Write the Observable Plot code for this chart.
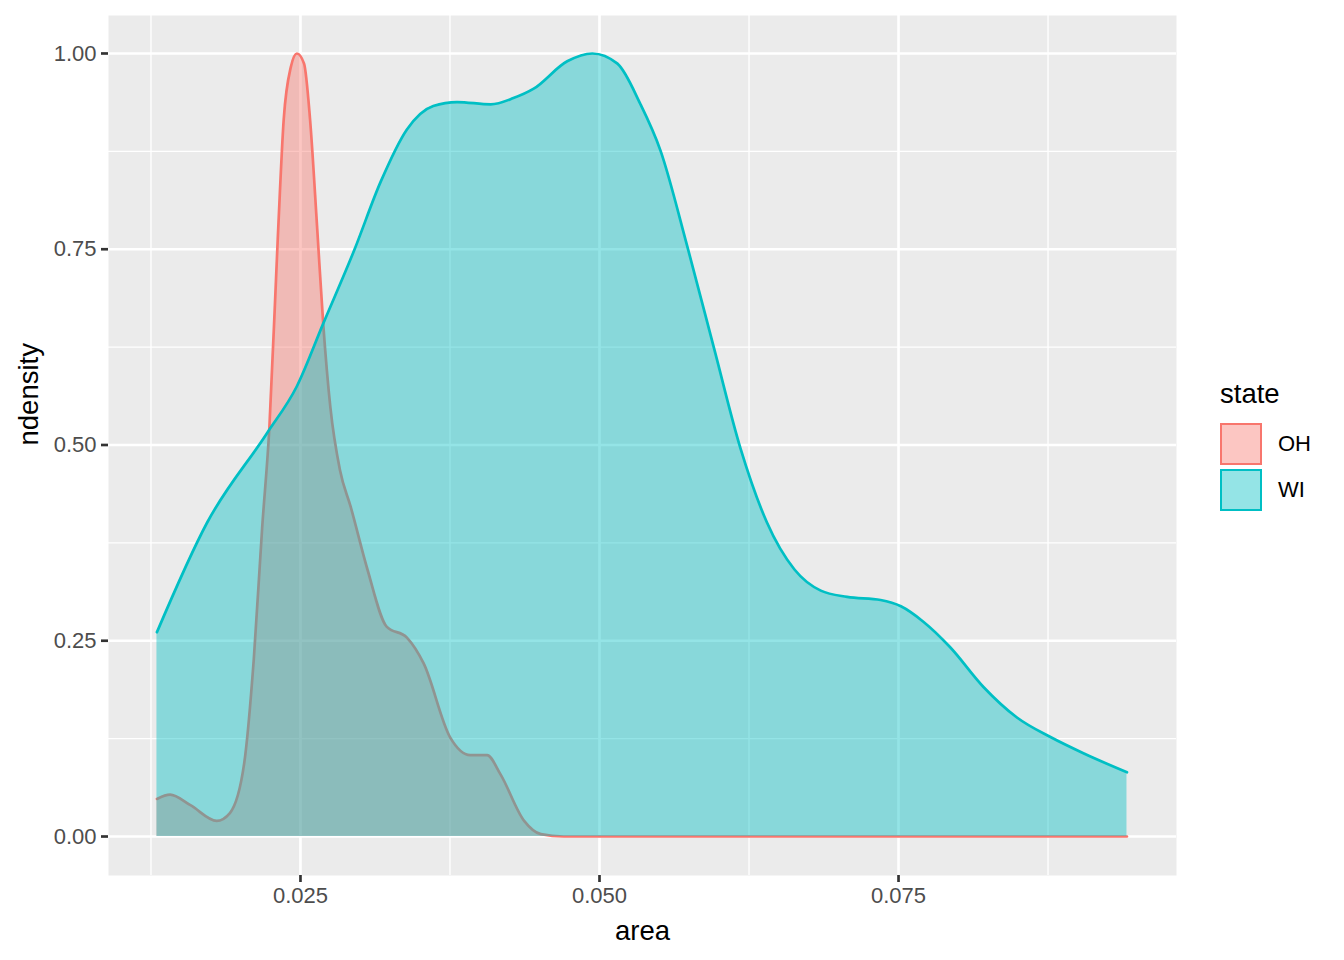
<!DOCTYPE html>
<html>
<head>
<meta charset="utf-8">
<script src="https://cdn.jsdelivr.net/npm/d3@7"></script>
<script src="https://cdn.jsdelivr.net/npm/@observablehq/plot@0.6"></script>
<style>
  html, body { margin: 0; padding: 0; background: #fff; }
  #wrap { position: relative; width: 1344px; height: 960px; font-family: "Liberation Sans", Arial, Helvetica, sans-serif; }
  #legend { position: absolute; left: 1220px; top: 378px; }
  #legend .title { font-size: 27.5px; color: #000; line-height: 32px; margin-bottom: 11px; }
  #legend .row { display: flex; align-items: center; height: 46px; }
  #legend .key { width: 42px; height: 42px; box-sizing: border-box; border: 2.6px solid; margin-right: 16px; }
  #legend .lab { font-size: 22px; color: #000; }
</style>
</head>
<body>
<div id="wrap"></div>
<script>
// ---- data ----
const states = ["OH", "WI"];
const stateColors = ["#F8766D", "#00BFC4"];

const ohArea = [0.0130, 0.0141, 0.0158, 0.0180, 0.0191, 0.0203, 0.0211, 0.0218, 0.0224, 0.0231,
  0.0236, 0.0242, 0.0247, 0.0253, 0.0258, 0.0264, 0.0269, 0.0275, 0.0283, 0.0292,
  0.0306, 0.0322, 0.0339, 0.0353, 0.0375, 0.0392, 0.0406, 0.0417, 0.0437, 0.0451,
  0.0470, 0.0550, 0.0700, 0.0850, 0.0941];
const ohDensity = [0.048, 0.0535, 0.040, 0.020, 0.030, 0.094, 0.227, 0.395, 0.522, 0.763,
  0.916, 0.983, 1.000, 0.987, 0.916, 0.776, 0.655, 0.548, 0.468, 0.421,
  0.341, 0.268, 0.254, 0.221, 0.127, 0.104, 0.104, 0.080, 0.020, 0.003,
  0.000, 0.000, 0.000, 0.000, 0.000];

const wiArea = [0.0130, 0.0172, 0.0222, 0.0247, 0.0269, 0.0295, 0.0317, 0.0339, 0.0361, 0.0381,
  0.0409, 0.0428, 0.0445, 0.0473, 0.0494, 0.0515, 0.0534, 0.0551, 0.0573, 0.0596,
  0.0618, 0.0640, 0.0663, 0.0685, 0.0707, 0.0735, 0.0752, 0.0771, 0.0793, 0.0821,
  0.0849, 0.0877, 0.0905, 0.0941];
const wiDensity = [0.261, 0.401, 0.515, 0.575, 0.655, 0.749, 0.836, 0.903, 0.933, 0.938,
  0.935, 0.943, 0.955, 0.990, 1.000, 0.987, 0.936, 0.876, 0.756, 0.622,
  0.495, 0.401, 0.341, 0.314, 0.306, 0.302, 0.294, 0.274, 0.242, 0.191,
  0.152, 0.127, 0.106, 0.082];

const xTicks = [0.025, 0.050, 0.075];
const xMinor = [0.0125, 0.0375, 0.0625, 0.0875];
const yTicks = [0, 0.25, 0.5, 0.75, 1.0];
const yMinor = [0.125, 0.375, 0.625, 0.875];
const xDomain = [0.00895, 0.09824];
const yDomain = [-0.0498, 1.0485];

// ---- build rows ----
const oh = ohArea.map((a, i) => ({area: a, ndensity: ohDensity[i], state: "OH"}));
const wi = wiArea.map((a, i) => ({area: a, ndensity: wiDensity[i], state: "WI"}));

const curve = "monotone-x";
const lw = 2.7;
const alpha = 0.42;

const plot = Plot.plot({
  width: 1344,
  height: 960,
  marginLeft: 108,
  marginRight: 168,
  marginTop: 15,
  marginBottom: 85,
  style: {fontFamily: "'Liberation Sans', Arial, Helvetica, sans-serif", background: "#fff"},
  x: {domain: xDomain},
  y: {domain: yDomain},
  marks: [
    Plot.frame({fill: "#EBEBEB"}),
    Plot.ruleX(xMinor, {stroke: "#fff", strokeWidth: 1.33}),
    Plot.ruleY(yMinor, {stroke: "#fff", strokeWidth: 1.33}),
    Plot.ruleX(xTicks, {stroke: "#fff", strokeWidth: 2.67}),
    Plot.ruleY(yTicks, {stroke: "#fff", strokeWidth: 2.67}),
    Plot.areaY(oh, {x: "area", y: "ndensity", fill: stateColors[0], fillOpacity: alpha, curve}),
    Plot.lineY(oh, {x: "area", y: "ndensity", stroke: stateColors[0], strokeWidth: lw, curve}),
    Plot.areaY(wi, {x: "area", y: "ndensity", fill: stateColors[1], fillOpacity: alpha, curve}),
    Plot.lineY(wi, {x: "area", y: "ndensity", stroke: stateColors[1], strokeWidth: lw, curve}),
    Plot.axisX(xTicks, {tickFormat: d3.format(".3f"), tickSize: 7, tickPadding: 5, stroke: "#333333", strokeWidth: 2.67, fill: "#4D4D4D", fontSize: 22, label: null}),
    Plot.axisY(yTicks, {tickFormat: d3.format(".2f"), tickSize: 7, tickPadding: 5, stroke: "#333333", strokeWidth: 2.67, fill: "#4D4D4D", fontSize: 22, label: null}),
    Plot.text(["area"], {frameAnchor: "bottom", dy: 56, fontSize: 27.5, fill: "#000", lineAnchor: "middle"}),
    Plot.text(["ndensity"], {frameAnchor: "left", dx: -79, rotate: -90, fontSize: 27.5, fill: "#000", lineAnchor: "middle"})
  ]
});

const wrap = document.getElementById("wrap");
wrap.appendChild(plot);

// legend
const lg = document.createElement("div");
lg.id = "legend";
let html = '<div class="title">state</div>';
states.forEach((s, i) => {
  const c = stateColors[i];
  const rgb = d3.rgb(c);
  html += `<div class="row"><div class="key" style="border-color:${c};background:rgba(${rgb.r},${rgb.g},${rgb.b},${alpha})"></div><div class="lab">${s}</div></div>`;
});
lg.innerHTML = html;
wrap.appendChild(lg);
</script>
</body>
</html>
